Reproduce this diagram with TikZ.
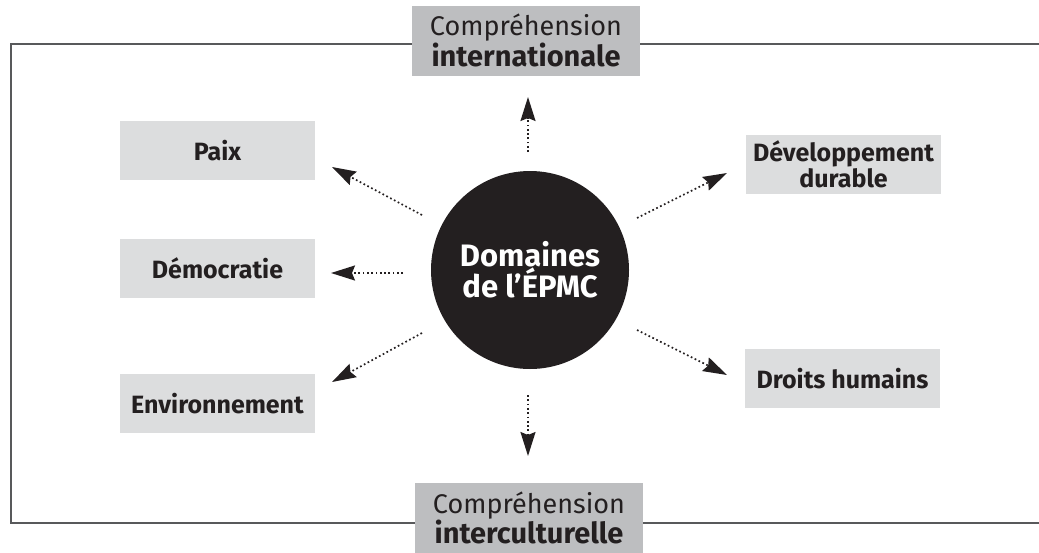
\documentclass[tikz,border=0pt]{standalone}
\usepackage{fontspec}
\setmainfont{Fira Sans}
\usetikzlibrary{arrows.meta}
\definecolor{ink}{HTML}{231F20}
\definecolor{darkbox}{HTML}{BDBEC0}
\definecolor{lightbox}{HTML}{DCDDDE}
\definecolor{frame}{HTML}{58595B}
\tikzset{
  bigbox/.style={fill=darkbox, minimum width=228pt, minimum height=70pt, inner sep=0pt, align=center, text=ink, font=\fontsize{27}{27}\selectfont},
  smallbox/.style={fill=lightbox, minimum width=195pt, minimum height=59pt, inner sep=0pt, align=center, text=ink, font=\bfseries\fontsize{25}{21}\selectfont},
  hub/.style={circle, fill=ink, minimum size=198pt, inner sep=0pt, align=center, text=white, font=\bfseries\fontsize{31}{28}\selectfont},
  arr/.style={draw=ink, line width=1.7pt, dash pattern=on 1.7pt off 2.6pt, -{Stealth[length=24pt, width=15pt, inset=3pt]}},
  frameline/.style={draw=frame, line width=2pt}
}
\begin{document}
\begin{tikzpicture}[x=1pt, y=-1pt]
\useasboundingbox (0,0) rectangle (1039,552);
\draw[frameline] (1040,44) -- (11,44) -- (11,523) -- (1040,523);
\node[bigbox] (top) at (526,40.5) {Compréhension\\{\bfseries\fontsize{29}{27}\selectfont internationale}};
\node[bigbox] (bot) at (529,518) {Compréhension\\{\bfseries\fontsize{29}{27}\selectfont interculturelle}};
\node[smallbox] (paix) at (217.5,150.5) {Paix};
\node[smallbox] (demo) at (217.5,268.5) {Démocratie};
\node[smallbox] (envi) at (217.5,403.5) {Environnement};
\node[smallbox] (dev) at (843.5,164.5) {Développement\\durable};
\node[smallbox] (droits) at (842.5,378.5) {Droits humains};
\node[hub] (c) at (530,270) {Domaines\\de l’ÉPMC};
% arrow ends
\coordinate (t1) at (528,152); \coordinate (h1) at (528,97);
\coordinate (t2) at (528,395); \coordinate (h2) at (528,456);
\coordinate (t3) at (422,215); \coordinate (h3) at (332,167);
\coordinate (t4) at (403,273); \coordinate (h4) at (331,273);
\coordinate (t5) at (422,333); \coordinate (h5) at (332,382);
\coordinate (t6) at (637,218); \coordinate (h6) at (727,173);
\coordinate (t7) at (637,330); \coordinate (h7) at (727,375);
\foreach \i in {1,...,7} {\draw[arr] (t\i) -- (h\i);}
\end{tikzpicture}
\end{document}
